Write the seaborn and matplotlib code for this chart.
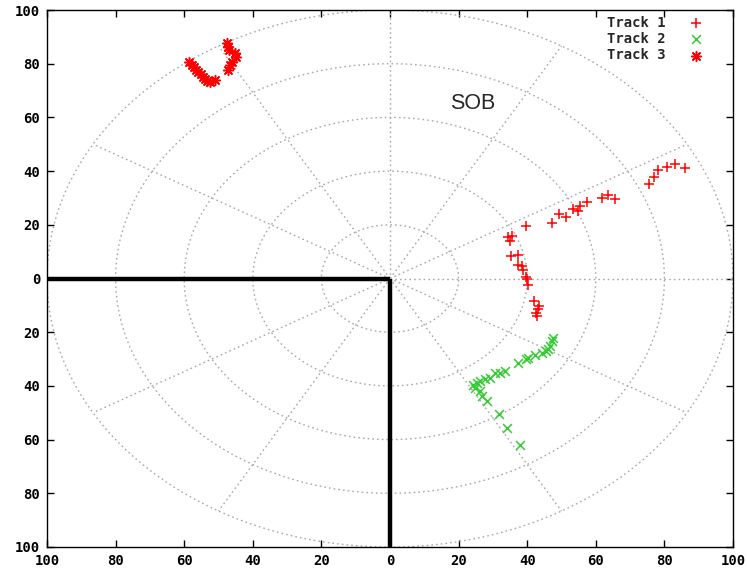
import numpy as np
import pandas as pd
import matplotlib
matplotlib.use("Agg")
import matplotlib.pyplot as plt
import seaborn as sns

# ---- data ----
track1_x = [86.0, 83.1, 80.7, 78.2, 77.1, 75.6, 65.6, 63.6, 61.9, 57.3, 55.4, 54.9, 53.3,
            51.2, 49.3, 47.1, 39.7, 35.5, 34.5, 35.0, 35.3, 37.4, 37.4, 38.4, 38.9, 39.7,
            39.9, 40.1, 42.1, 43.5, 43.1, 42.6, 42.8]
track1_y = [41.2, 42.6, 41.7, 40.3, 37.8, 35.2, 29.6, 31.2, 30.0, 28.4, 26.9, 25.0, 26.0,
            22.9, 24.2, 20.7, 19.4, 16.0, 15.5, 13.9, 8.3, 8.6, 5.2, 4.6, 3.3, 0.6,
            -0.1, -2.6, -8.4, -10.3, -11.5, -12.8, -14.0]

track2_x = [47.6, 47.1, 46.6, 46.2, 45.5, 44.2, 42.3, 40.3, 39.7, 37.4, 33.5, 32.1, 30.6,
            29.2, 27.7, 26.2, 25.3, 24.3, 24.8, 26.2, 26.7, 28.2, 31.9, 34.0, 37.9]
track2_y = [-22.0, -23.3, -25.2, -26.4, -27.0, -27.6, -28.6, -29.5, -30.1, -31.3, -34.5,
            -35.1, -35.3, -36.9, -37.5, -38.2, -38.8, -39.8, -40.6, -41.9, -43.8, -45.6,
            -50.6, -55.5, -62.0]

track3_x = [-58.5, -57.8, -57.1, -56.6, -55.9, -55.2, -54.6, -53.9, -53.3, -52.5, -51.0,
            -47.6, -47.1, -46.8, -45.2, -44.9, -46.2, -46.6, -47.1]
track3_y = [80.6, 79.6, 78.6, 77.7, 76.8, 76.1, 75.2, 74.3, 73.7, 73.3, 74.0,
            87.6, 86.4, 85.1, 83.9, 82.6, 80.8, 79.6, 77.7]

track_names = ["Track 1", "Track 2", "Track 3"]
grid_radii = [20, 40, 60, 80, 100]
grid_angles_deg = list(range(0, 360, 30))
tick_values = [-100, -80, -60, -40, -20, 0, 20, 40, 60, 80, 100]
annotation_text = "SOB"

df = pd.DataFrame({
    "x": track1_x + track2_x + track3_x,
    "y": track1_y + track2_y + track3_y,
    "track": ([track_names[0]] * len(track1_x) + [track_names[1]] * len(track2_x)
              + [track_names[2]] * len(track3_x)),
})

sns.set_style("white")
plt.rcParams["font.family"] = ["DejaVu Sans"]

W, H = 747, 573
fig = plt.figure(figsize=(W / 100, H / 100), dpi=100)
ax = fig.add_axes([47 / W, 1 - 547 / H, (733 - 47) / W, (547 - 10) / H])

grid_kw = dict(color="#a8a8a8", lw=1.0, ls=(0, (1.2, 2.2)), zorder=1)
t = np.linspace(0, 2 * np.pi, 400)
for r in grid_radii:
    ax.plot(r * np.cos(t), r * np.sin(t), **grid_kw)
for a in grid_angles_deg:
    ar = np.deg2rad(a)
    ax.plot([0, 100 * np.cos(ar)], [0, 100 * np.sin(ar)], **grid_kw)

# thick black quadrant lines
ax.plot([-100, 0], [0, 0], color="black", lw=3.2, zorder=3, solid_capstyle="butt")
ax.plot([0, 0], [0, -100], color="black", lw=3.2, zorder=3, solid_capstyle="butt")

styles = {
    "Track 1": dict(marker="+", color="#ff0000", s=48),
    "Track 2": dict(marker="x", color="#33cc33", s=40),
    "Track 3": dict(marker=(8, 2, 0), color="#ff0000", s=50),
}
for name in track_names:
    st = styles[name]
    sns.scatterplot(data=df[df["track"] == name], x="x", y="y", ax=ax,
                    marker=st["marker"], color=st["color"], s=st["s"],
                    linewidth=1.1, label=name, zorder=4)

ax.text(24, 65, annotation_text, fontsize=15.5, family="Liberation Sans",
        ha="center", va="center", zorder=5)

ax.set_xlim(-100, 100)
ax.set_ylim(-100, 100)
ax.set_xticks(tick_values)
ax.set_yticks(tick_values)
lab = [str(abs(v)) for v in tick_values]
ax.set_xticklabels(lab)
ax.set_yticklabels(lab)
ax.set_xlabel("")
ax.set_ylabel("")
for lbl in ax.get_xticklabels() + ax.get_yticklabels():
    lbl.set_fontfamily("DejaVu Sans Mono")
    lbl.set_fontweight("bold")
    lbl.set_fontsize(10)
ax.tick_params(direction="in", length=5, width=1, top=True, right=True,
               bottom=True, left=True, pad=5, colors="black")
for sp in ax.spines.values():
    sp.set_color("black")
    sp.set_linewidth(1.0)
    sp.set_visible(True)

leg = ax.legend(loc="upper right", bbox_to_anchor=(0.985, 1.012), frameon=False,
                markerfirst=False, handletextpad=1.2, labelspacing=0.15,
                prop={"family": "DejaVu Sans Mono", "weight": "bold", "size": 10})

fig.savefig("out.png", dpi=100)
